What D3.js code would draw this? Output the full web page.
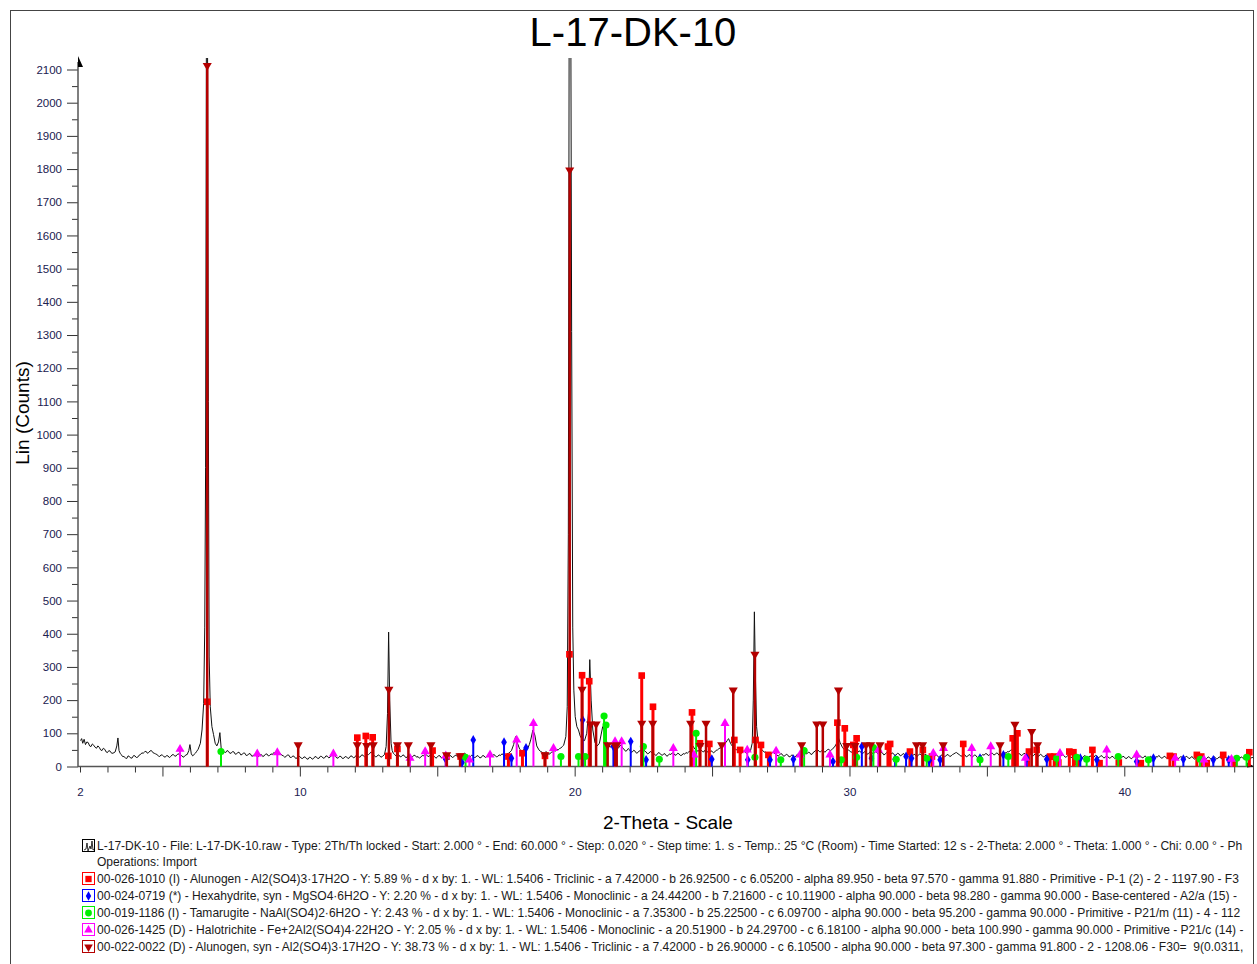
<!DOCTYPE html>
<html>
<head>
<meta charset="utf-8">
<script src="https://cdn.jsdelivr.net/npm/d3@7"></script>
<style>
body { margin: 0; background: #fff; }
svg { font-family: "Liberation Sans", Arial, sans-serif; }
</style>
</head>
<body>
<svg id="chart" width="1257" height="964"></svg>
<script>
// measured scan, [2-theta, counts]
var profile = [
 [2.02,78],[2.06,84],[2.1,70],[2.15,82],[2.2,66],[2.25,74],[2.3,72],[2.35,62],[2.4,60],[2.45,68],[2.5,64],[2.55,58],[2.6,55],[2.65,62],[2.7,58],[2.75,50],[2.8,48],[2.85,55],[2.9,52],[2.95,44],[3.0,42],[3.05,48],[3.1,46],[3.15,40],[3.2,40],[3.28,44],[3.34,62],[3.38,86],[3.42,48],[3.46,40],[3.5,36],[3.55,30],[3.6,30],[3.65,26],[3.7,24],[3.75,32],[3.8,30],[3.85,25],[3.9,26],[3.95,33],[4.0,32],[4.05,27],[4.1,28],[4.15,34],[4.2,36],[4.25,41],[4.3,40],[4.35,44],[4.4,46],[4.45,40],[4.5,42],[4.55,47],[4.6,48],[4.65,42],[4.7,40],[4.75,38],[4.8,36],[4.85,32],[4.9,30],[4.95,35],[5.0,34],[5.05,30],[5.1,28],[5.15,33],[5.2,32],[5.25,27],[5.3,30],[5.35,35],[5.4,36],[5.45,31],[5.5,32],[5.55,37],[5.6,38],[5.65,32],[5.7,33],[5.75,28],[5.8,30],[5.85,35],[5.9,36],[5.96,48],[6.0,66],[6.05,38],[6.1,32],[6.15,36],[6.2,40],[6.25,46],[6.3,52],[6.38,70],[6.44,110],[6.5,190],[6.54,420],[6.57,900],[6.6,2250],[6.64,2250],[6.67,1100],[6.7,330],[6.74,180],[6.8,120],[6.86,96],[6.92,70],[6.98,62],[7.04,74],[7.09,102],[7.14,52],[7.2,48],[7.25,44],[7.3,42],[7.35,48],[7.4,46],[7.45,40],[7.5,40],[7.55,45],[7.6,44],[7.65,37],[7.7,38],[7.75,43],[7.8,42],[7.85,35],[7.9,36],[7.95,41],[8.0,40],[8.05,33],[8.1,34],[8.15,39],[8.2,38],[8.25,31],[8.3,32],[8.35,37],[8.4,36],[8.45,29],[8.5,30],[8.55,35],[8.6,36],[8.65,30],[8.7,32],[8.75,37],[8.8,38],[8.85,32],[8.9,33],[8.95,38],[9.0,36],[9.05,42],[9.1,40],[9.15,45],[9.2,48],[9.25,42],[9.3,38],[9.35,34],[9.4,32],[9.45,28],[9.5,30],[9.55,35],[9.6,34],[9.65,27],[9.7,28],[9.75,32],[9.8,30],[9.85,24],[9.9,26],[9.95,31],[10.0,30],
 [10.05,25],[10.1,24],[10.15,29],[10.2,28],[10.25,23],[10.3,22],[10.35,28],[10.4,27],[10.45,22],[10.5,24],[10.55,30],[10.6,29],[10.65,24],[10.7,25],[10.75,31],[10.8,30],[10.85,25],[10.9,26],[10.95,32],[11.0,31],[11.05,26],[11.1,28],[11.15,33],[11.2,38],[11.25,34],[11.3,30],[11.35,25],[11.4,26],[11.45,31],[11.5,30],[11.55,24],[11.6,25],[11.65,30],[11.7,29],[11.75,24],[11.8,26],[11.85,32],[11.9,31],[11.95,26],[12.0,28],[12.05,34],[12.1,33],[12.15,28],[12.2,29],[12.25,35],[12.3,34],[12.35,29],[12.4,30],[12.45,37],[12.5,36],[12.55,40],[12.6,44],[12.65,38],[12.7,34],[12.75,29],[12.8,30],[12.85,35],[12.9,33],[12.95,28],[13.0,30],[13.08,36],[13.14,60],[13.19,160],[13.23,405],[13.27,200],[13.32,70],[13.36,48],[13.4,40],[13.45,36],[13.5,32],[13.55,37],[13.6,35],[13.65,29],[13.7,30],[13.75,35],[13.8,33],[13.85,27],[13.9,28],[13.95,34],[14.0,32],[14.05,27],[14.1,29],[14.15,34],[14.2,33],[14.25,28],[14.3,30],[14.35,25],[14.4,28],[14.45,33],[14.5,32],[14.55,37],[14.6,36],[14.65,31],[14.7,30],[14.75,35],[14.8,34],[14.85,28],[14.9,30],[14.95,25],[15.0,28],[15.05,33],[15.1,32],[15.15,26],[15.2,27],[15.25,32],[15.3,31],[15.35,26],[15.4,28],[15.45,33],[15.5,32],[15.55,27],[15.6,29],[15.65,34],[15.7,33],[15.75,28],[15.8,30],[15.85,35],[15.9,34],[15.95,38],[16.0,40],[16.05,36],[16.1,33],[16.15,28],[16.2,29],[16.25,34],[16.3,32],[16.35,27],[16.4,28],[16.45,33],[16.5,31],[16.55,26],[16.6,27],[16.65,33],[16.7,32],[16.75,27],[16.8,30],[16.85,36],[16.9,35],[16.95,30],[17.0,31],[17.05,36],[17.1,34],[17.15,29],[17.2,30],[17.25,35],[17.3,33],[17.35,38],[17.4,36],[17.45,31],[17.5,34],[17.55,39],[17.6,40],[17.65,44],[17.7,48],[17.78,66],[17.85,90],[17.92,70],[18.0,52],[18.05,48],[18.1,46],[18.15,52],[18.2,50],[18.25,54],[18.3,56],[18.35,66],[18.4,80],[18.48,110],[18.55,95],[18.62,62],[18.7,50],[18.75,46],[18.8,44],[18.85,40],[18.9,40],[18.95,45],[19.0,42],[19.05,37],[19.1,38],[19.15,43],[19.2,44],[19.25,48],[19.3,46],[19.35,51],[19.4,50],[19.45,54],[19.5,56],[19.55,60],[19.6,64],[19.68,90],[19.73,180],[19.77,700],[19.8,2250],[19.86,2250],[19.89,1310],[19.93,420],[19.97,230],[20.02,150],[20.08,120],[20.14,110],[20.2,92],[20.28,80],[20.36,78],[20.44,100],[20.5,160],[20.55,322],[20.6,200],[20.66,110],[20.74,72],[20.82,62],[20.9,70],[20.96,95],[21.02,120],[21.08,110],[21.14,80],[21.22,64],[21.3,58],[21.35,64],[21.4,66],[21.45,58],[21.5,60],[21.55,52],[21.6,56],[21.65,64],[21.7,62],[21.75,55],[21.8,52],[21.85,46],[21.9,48],[21.95,54],[22.0,50],[22.05,43],[22.1,44],[22.15,49],[22.2,46],[22.25,40],[22.3,42],[22.35,47],[22.4,48],[22.45,54],[22.5,52],[22.55,46],[22.6,44],[22.65,38],[22.7,40],[22.75,45],[22.8,43],[22.85,37],[22.9,38],[22.95,33],[23.0,36],[23.05,42],[23.1,40],[23.15,35],[23.2,34],[23.25,39],[23.3,37],[23.35,31],[23.4,33],[23.45,38],[23.5,36],[23.55,41],[23.6,40],[23.65,34],[23.7,35],[23.75,40],[23.8,38],[23.85,33],[23.9,34],[23.95,39],[24.0,37],[24.05,42],[24.1,40],[24.15,44],[24.2,46],[24.25,54],[24.3,62],[24.38,52],[24.44,48],[24.5,46],[24.55,52],[24.6,50],[24.65,45],[24.7,44],[24.75,50],[24.8,48],[24.85,42],[24.9,42],[24.95,47],[25.0,46],[25.05,41],[25.1,44],[25.15,49],[25.2,50],[25.25,54],[25.3,56],[25.35,60],[25.4,62],[25.45,68],[25.5,72],[25.55,78],[25.6,84],[25.65,74],[25.7,66],[25.75,60],[25.8,56],[25.85,52],[25.9,50],[25.95,47],[26.0,46],[26.05,40],[26.1,42],[26.15,47],[26.2,45],[26.25,39],[26.3,42],[26.35,46],[26.4,48],[26.46,70],[26.5,200],[26.54,466],[26.58,260],[26.62,120],[26.68,70],[26.75,56],[26.8,50],[26.85,48],[26.9,43],[26.95,44],[27.0,39],
 [27.05,40],[27.1,36],[27.15,38],[27.2,43],[27.25,42],[27.3,37],[27.35,36],[27.4,31],[27.45,34],[27.5,39],[27.55,37],[27.6,31],[27.65,32],[27.7,37],[27.75,35],[27.8,29],[27.85,30],[27.9,35],[27.95,33],[28.0,28],[28.05,31],[28.1,37],[28.15,36],[28.2,41],[28.25,40],[28.3,35],[28.35,34],[28.4,39],[28.45,38],[28.5,43],[28.55,42],[28.6,36],[28.65,38],[28.7,44],[28.75,46],[28.8,51],[28.85,50],[28.9,45],[28.95,44],[29.0,49],[29.05,48],[29.1,43],[29.15,46],[29.2,51],[29.25,52],[29.3,47],[29.35,50],[29.4,55],[29.45,58],[29.52,68],[29.6,86],[29.66,72],[29.74,58],[29.82,50],[29.86,52],[29.9,46],[29.95,50],[30.0,48],[30.05,43],[30.1,44],[30.15,49],[30.2,46],[30.25,41],[30.3,42],[30.35,47],[30.4,45],[30.45,39],[30.5,40],[30.55,45],[30.6,43],[30.65,37],[30.7,39],[30.75,45],[30.8,44],[30.85,38],[30.9,40],[30.95,45],[31.0,42],[31.05,36],[31.1,38],[31.15,43],[31.2,41],[31.25,35],[31.3,37],[31.35,42],[31.4,40],[31.45,34],[31.5,36],[31.55,41],[31.6,39],[31.65,33],[31.7,35],[31.75,40],[31.8,38],[31.85,32],[31.9,34],[31.95,39],[32.0,37],[32.05,31],[32.1,33],[32.15,38],[32.2,36],[32.25,30],[32.3,32],[32.35,37],[32.4,35],[32.45,30],[32.5,33],[32.55,38],[32.6,36],[32.65,30],[32.7,32],[32.75,37],[32.8,35],[32.85,29],[32.9,31],[32.95,36],[33.0,34],[33.05,28],[33.1,30],[33.15,35],[33.2,33],[33.25,27],[33.3,29],[33.35,35],[33.4,34],[33.45,29],[33.5,31],[33.55,36],[33.6,35],[33.65,30],[33.7,32],[33.75,36],[33.8,38],[33.85,41],[33.9,42],[33.95,38],[34.0,36],[34.05,31],[34.1,32],[34.15,37],[34.2,35],[34.25,29],[34.3,31],[34.35,36],[34.4,34],[34.45,28],[34.5,30],[34.55,35],[34.6,33],[34.65,27],[34.7,29],[34.75,34],[34.8,32],[34.85,36],[34.9,34],[34.95,39],[35.0,38],[35.05,33],[35.1,35],[35.15,40],[35.2,40],[35.25,35],[35.3,36],[35.35,41],[35.4,39],[35.45,33],[35.5,34],[35.55,39],[35.6,37],[35.65,42],[35.7,40],[35.75,45],[35.8,44],[35.85,48],[35.9,50],[35.95,47],[36.0,46],[36.05,43],[36.1,42],[36.15,39],[36.2,38],[36.25,33],[36.3,35],[36.35,40],[36.4,38],[36.45,32],[36.5,34],[36.55,39],[36.6,37],[36.65,31],[36.7,33],[36.75,38],[36.8,36],[36.85,30],[36.9,32],[36.95,37],[37.0,34],[37.05,29],[37.1,30],[37.15,35],[37.2,33],[37.25,28],[37.3,29],[37.35,34],[37.4,32],[37.45,27],[37.5,30],[37.55,35],[37.6,34],[37.65,29],[37.7,31],[37.75,36],[37.8,33],[37.85,28],[37.9,29],[37.95,34],[38.0,32],[38.05,27],[38.1,28],[38.15,33],[38.2,31],[38.25,26],[38.3,27],[38.35,32],[38.4,30],[38.45,25],[38.5,28],[38.55,33],[38.6,31],[38.65,26],[38.7,27],[38.75,32],[38.8,30],[38.85,25],[38.9,28],[38.95,34],[39.0,32],[39.05,27],[39.1,28],[39.15,33],[39.2,31],[39.25,26],[39.3,27],[39.35,32],[39.4,30],[39.45,25],[39.5,26],[39.55,31],[39.6,29],[39.65,24],[39.7,27],[39.75,32],[39.8,30],[39.85,25],[39.9,26],[39.95,31],[40.0,29],[40.05,24],[40.1,25],[40.15,30],[40.2,28],[40.25,23],[40.3,26],[40.35,31],[40.4,30],[40.45,25],[40.5,27],[40.55,32],[40.6,31],[40.65,26],[40.7,27],[40.75,32],[40.8,29],[40.85,24],[40.9,26],[40.95,31],[41.0,28],[41.05,23],[41.1,25],[41.15,30],[41.2,28],[41.25,33],[41.3,30],[41.35,25],[41.4,26],[41.45,31],[41.5,29],[41.55,24],[41.6,25],[41.65,30],[41.7,28],[41.75,23],[41.8,26],[41.85,31],[41.9,29],[41.95,24],[42.0,25],[42.05,30],[42.1,28],[42.15,23],[42.2,26],[42.25,31],[42.3,29],[42.35,24],[42.4,25],[42.45,30],[42.5,27],[42.55,22],[42.6,24],[42.65,29],[42.7,28],[42.75,23],[42.8,25],[42.85,30],[42.9,27],[42.95,22],[43.0,24],[43.05,29],[43.1,27],[43.15,22],[43.2,25],[43.25,30],[43.3,28],[43.35,23],[43.4,24],[43.45,29],[43.5,27],[43.55,22],[43.6,25],[43.65,30],[43.7,28],[43.75,23],[43.8,24],[43.85,29],[43.9,26],[43.95,21],[44.0,23],[44.05,28],[44.1,26],[44.15,21],[44.2,24],[44.25,29],[44.3,27],[44.35,22],[44.4,23],[44.45,28],[44.5,26],[44.55,21],[44.6,24],[44.65,28],[44.7,25]
];

// reference patterns, [2-theta, stick height]
var alunogen1010 = [
 [6.63,195],[12.09,87],[12.40,92],[12.65,88],[13.22,32],[13.55,53],[14.83,48],[15.34,30],[15.85,30],[17.59,30],[18.10,40],[18.92,32],[19.81,338],[20.27,275],[20.53,257],[22.44,274],[22.85,180],[24.27,163],[24.56,70],[24.90,68],[25.81,80],[26.02,50],[26.58,80],[26.78,65],[27.05,35],[29.56,132],[29.83,115],[30.14,65],[30.26,85],[31.48,68],[31.40,60],[32.20,45],[32.67,50],[33.00,30],[34.14,68],[35.94,85],[36.11,100],[36.53,45],[36.81,50],[37.30,30],[37.45,30],[37.60,12],[38.00,45],[38.15,43],[38.30,12],[38.84,50],[39.10,10],[39.80,12],[40.60,10],[41.66,32],[41.79,30],[42.64,35],[42.80,30],[43.00,10],[43.60,35],[44.00,10],[44.55,43]
];
var hexahydrite0719 = [
 [15.31,22],[15.90,12],[16.31,80],[17.43,73],[17.70,25],[18.23,56],[20.29,140],[21.41,60],[22.04,75],[22.60,20],[24.99,22],[26.30,20],[27.11,20],[27.96,22],[29.40,15],[30.45,60],[30.80,25],[31.66,22],[32.06,30],[32.26,25],[32.90,18],[33.30,20],[34.75,25],[35.60,35],[36.45,25],[37.18,22],[38.40,25],[39.00,20],[40.45,15],[41.06,25],[42.15,22],[43.24,20],[43.80,20]
];
var tamarugite1186 = [
 [7.13,45],[16.03,28],[19.50,30],[20.14,30],[20.38,30],[21.07,152],[21.14,125],[22.50,60],[23.08,22],[24.42,100],[26.56,28],[27.50,20],[28.35,48],[29.70,20],[30.26,28],[30.87,57],[31.70,22],[32.81,25],[34.75,20],[35.78,30],[37.54,25],[38.27,28],[38.63,22],[39.78,30],[40.88,20],[42.76,22],[44.09,25],[44.45,28]
];
var halotrichite1425 = [
 [5.64,52],[8.45,38],[9.18,42],[11.22,38],[14.01,25],[14.56,45],[15.31,32],[16.17,20],[16.92,35],[17.89,80],[18.50,130],[19.23,55],[21.47,75],[21.71,75],[23.59,55],[24.34,35],[25.47,130],[26.28,50],[27.33,47],[28.20,35],[29.29,35],[31.05,50],[33.05,40],[33.42,55],[34.45,55],[35.14,60],[36.40,25],[37.66,40],[39.36,50],[40.45,35],[41.85,25],[42.90,20],[43.90,22]
];
var alunogen0022 = [
 [6.63,2112],[9.94,65],[12.09,65],[12.43,63],[12.67,65],[13.24,232],[13.55,65],[13.95,65],[14.77,65],[15.34,35],[15.83,32],[18.92,35],[19.82,1797],[20.27,232],[20.58,128],[20.78,128],[21.20,65],[21.47,63],[21.53,65],[22.44,130],[22.84,130],[24.22,130],[24.56,63],[24.78,130],[25.35,65],[25.77,230],[26.56,338],[28.26,65],[28.81,128],[29.03,128],[29.60,230],[29.90,63],[30.20,63],[30.60,65],[30.77,65],[31.11,65],[32.44,65],[32.66,65],[33.41,65],[35.48,65],[36.02,127],[36.63,105],[36.84,65]
];

var yTickLabels = [0,100,200,300,400,500,600,700,800,900,1000,1100,1200,1300,1400,1500,1600,1700,1800,1900,2000,2100];
var yMinorTicks = [50,150,250,350,450,550,650,750,850,950,1050,1150,1250,1350,1450,1550,1650,1750,1850,1950,2050];
var xTickLabels = [2,10,20,30,40];
var xMajorTicks = [5,10,15,20,25,30,35,40];
var xMinorTicks = [2,3,4,6,7,8,9,11,12,13,14,16,17,18,19,21,22,23,24,26,27,28,29,31,32,33,34,36,37,38,39,41,42,43,44];

var legendTexts = [
 "L-17-DK-10 - File: L-17-DK-10.raw - Type: 2Th/Th locked - Start: 2.000 \u00b0 - End: 60.000 \u00b0 - Step: 0.020 \u00b0 - Step time: 1. s - Temp.: 25 \u00b0C (Room) - Time Started: 12 s - 2-Theta: 2.000 \u00b0 - Theta: 1.000 \u00b0 - Chi: 0.00 \u00b0 - Ph",
 "Operations: Import",
 "00-026-1010 (I) - Alunogen - Al2(SO4)3\u00b717H2O - Y: 5.89 % - d x by: 1. - WL: 1.5406 - Triclinic - a 7.42000 - b 26.92500 - c 6.05200 - alpha 89.950 - beta 97.570 - gamma 91.880 - Primitive - P-1 (2) - 2 - 1197.90 - F3",
 "00-024-0719 (*) - Hexahydrite, syn - MgSO4\u00b76H2O - Y: 2.20 % - d x by: 1. - WL: 1.5406 - Monoclinic - a 24.44200 - b 7.21600 - c 10.11900 - alpha 90.000 - beta 98.280 - gamma 90.000 - Base-centered - A2/a (15) -",
 "00-019-1186 (I) - Tamarugite - NaAl(SO4)2\u00b76H2O - Y: 2.43 % - d x by: 1. - WL: 1.5406 - Monoclinic - a 7.35300 - b 25.22500 - c 6.09700 - alpha 90.000 - beta 95.200 - gamma 90.000 - Primitive - P21/m (11) - 4 - 112",
 "00-026-1425 (D) - Halotrichite - Fe+2Al2(SO4)4\u00b722H2O - Y: 2.05 % - d x by: 1. - WL: 1.5406 - Monoclinic - a 20.51900 - b 24.29700 - c 6.18100 - alpha 90.000 - beta 100.990 - gamma 90.000 - Primitive - P21/c (14) -",
 "00-022-0022 (D) - Alunogen, syn - Al2(SO4)3\u00b717H2O - Y: 38.73 % - d x by: 1. - WL: 1.5406 - Triclinic - a 7.42000 - b 26.90000 - c 6.10500 - alpha 90.000 - beta 97.300 - gamma 91.800 - 2 - 1208.06 - F30=\u00a0 9(0.0311,"
];

var phases = [
 {data: alunogen1010, color: "#ff0000", symbol: d3.symbolSquare, size: 44, width: 3, rotate: 0, row: 2},
 {data: hexahydrite0719, color: "#0000ff", symbol: d3.symbolDiamond, size: 28, width: 2, rotate: 0, row: 3},
 {data: tamarugite1186, color: "#00f000", symbol: d3.symbolCircle, size: 40, width: 2, rotate: 0, row: 4},
 {data: halotrichite1425, color: "#ff00ff", symbol: d3.symbolTriangle, size: 36, width: 2, rotate: 0, row: 5},
 {data: alunogen0022, color: "#b40000", symbol: d3.symbolTriangle, size: 36, width: 2.5, rotate: 180, row: 6}
];

var svg = d3.select("#chart");

svg.append("rect")
  .attr("x", 10.5).attr("y", 10.5)
  .attr("width", 1243).attr("height", 990)
  .attr("fill", "none").attr("stroke", "#444");

svg.append("text")
  .attr("x", 633).attr("y", 46)
  .attr("text-anchor", "middle")
  .attr("font-size", "40px")
  .attr("fill", "#000")
  .text("L-17-DK-10");

var x = d3.scaleLinear().domain([2, 44.72]).range([80, 1254]);
var y = d3.scaleLinear().domain([0, 2100]).range([766.5, 69.5]);

svg.append("defs").append("clipPath").attr("id", "plotclip")
  .append("rect").attr("x", 78).attr("y", 58).attr("width", 1176).attr("height", 710);

// axes
var axisColor = "#333";
var tickColor = "#202050";

var gy = svg.append("g").attr("transform", "translate(78,0)");
gy.append("g")
  .call(d3.axisLeft(y).tickValues(yMinorTicks).tickSize(6).tickFormat(""))
  .call(function(g) { g.select(".domain").remove(); });
gy.append("g")
  .call(d3.axisLeft(y).tickValues(yTickLabels).tickSize(11).tickPadding(5).tickSizeOuter(0).tickFormat(d3.format("d")))
  .call(function(g) { g.select(".domain").remove(); })
  .selectAll("text")
  .attr("font-size", "11.5px")
  .attr("font-family", "Liberation Sans, Arial, sans-serif")
  .attr("fill", tickColor);
gy.selectAll(".tick line").attr("stroke", axisColor);
gy.append("line")
  .attr("x1", 0).attr("x2", 0).attr("y1", 767).attr("y2", 62)
  .attr("stroke", "#555").attr("stroke-width", 1.5);
gy.append("path")
  .attr("d", "M0,56 L5,67 L0,67 Z")
  .attr("fill", "#000");

var gx = svg.append("g").attr("transform", "translate(0,766.5)");
gx.append("g")
  .call(d3.axisBottom(x).tickValues(xMinorTicks).tickSize(6).tickFormat(""))
  .call(function(g) { g.select(".domain").remove(); });
gx.append("g")
  .call(d3.axisBottom(x).tickValues(xMajorTicks).tickSize(10).tickFormat(""))
  .call(function(g) { g.select(".domain").remove(); });
gx.append("g")
  .call(d3.axisBottom(x).tickValues(xTickLabels).tickSize(0).tickPadding(21).tickFormat(d3.format("d")))
  .call(function(g) { g.select(".domain").remove(); })
  .selectAll("text")
  .attr("font-size", "11.5px")
  .attr("font-family", "Liberation Sans, Arial, sans-serif")
  .attr("fill", tickColor);
gx.selectAll(".tick line").attr("stroke", axisColor);
gx.append("line")
  .attr("x1", 78).attr("x2", 1254).attr("y1", 0).attr("y2", 0)
  .attr("stroke", "#555").attr("stroke-width", 1.5);
gx.append("path")
  .attr("d", "M1247,-4 L1254,0 L1247,1 Z")
  .attr("fill", "#000");

// axis titles
svg.append("text")
  .attr("transform", "translate(29,413) rotate(-90)")
  .attr("text-anchor", "middle")
  .attr("font-size", "19px")
  .attr("fill", "#000")
  .text("Lin (Counts)");

svg.append("text")
  .attr("x", 668).attr("y", 829)
  .attr("text-anchor", "middle")
  .attr("font-size", "19px")
  .attr("fill", "#000")
  .text("2-Theta - Scale");

// scan line
var plot = svg.append("g").attr("clip-path", "url(#plotclip)");

plot.append("path")
  .datum(profile)
  .attr("fill", "none")
  .attr("stroke", "#111")
  .attr("stroke-width", 1)
  .attr("d", d3.line()
    .x(function(d) { return x(d[0]); })
    .y(function(d) { return y(d[1]); }));

// stick patterns
phases.forEach(function(p) {
  var g = plot.append("g");
  g.selectAll("line")
    .data(p.data)
    .enter()
    .append("line")
    .attr("x1", function(d) { return x(d[0]); })
    .attr("x2", function(d) { return x(d[0]); })
    .attr("y1", y(0))
    .attr("y2", function(d) { return y(d[1]); })
    .attr("stroke", p.color)
    .attr("stroke-width", p.width);
  g.selectAll("path")
    .data(p.data)
    .enter()
    .append("path")
    .attr("d", d3.symbol().type(p.symbol).size(p.size))
    .attr("transform", function(d) {
      return "translate(" + x(d[0]) + "," + y(d[1]) + ") rotate(" + p.rotate + ")";
    })
    .attr("fill", p.color);
});

// legend
var legend = svg.append("g");
var rowY = [846, 862, 879, 896, 913, 930, 947];

legend.selectAll("text")
  .data(legendTexts)
  .enter()
  .append("text")
  .attr("x", 97)
  .attr("y", function(d, i) { return rowY[i] + 4; })
  .attr("font-size", "12.05px")
  .attr("fill", "#1a1a1a")
  .text(function(d) { return d; });

legend.append("rect")
  .attr("x", 82.5).attr("y", rowY[0] - 6.5)
  .attr("width", 12).attr("height", 12)
  .attr("fill", "#fff").attr("stroke", "#000");
legend.append("path")
  .attr("d", "M84," + (rowY[0] + 4) + " l2,-1 l1,-6 l1,8 l2,-5 l1,3 l1,-8 l1,9 l2,-1")
  .attr("fill", "none").attr("stroke", "#000").attr("stroke-width", 0.8);

phases.forEach(function(p) {
  var cy = rowY[p.row];
  legend.append("rect")
    .attr("x", 82.5).attr("y", cy - 6.5)
    .attr("width", 12).attr("height", 12)
    .attr("fill", "#fff").attr("stroke", p.color);
  legend.append("path")
    .attr("d", d3.symbol().type(p.symbol).size(p.size * 0.9))
    .attr("transform", "translate(88.5," + cy + ") rotate(" + p.rotate + ")")
    .attr("fill", p.color);
});
</script>
</body>
</html>
